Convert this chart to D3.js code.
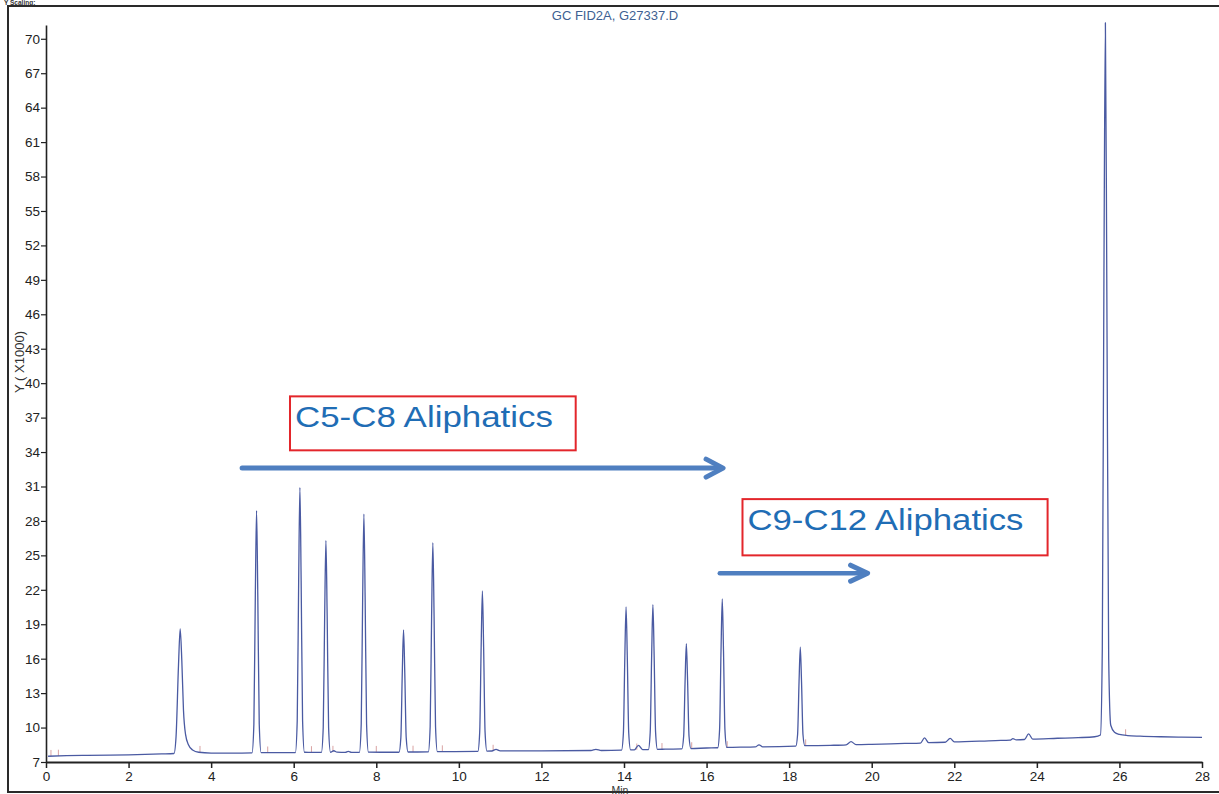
<!DOCTYPE html>
<html>
<head>
<meta charset="utf-8">
<script src="https://cdn.jsdelivr.net/npm/d3@7"></script>
<style>
  body { margin: 0; background: #fff; }
  svg { display: block; font-family: "Liberation Sans", Arial, sans-serif; }
</style>
</head>
<body>
<div id="container"></div>
<script>
/* CONSTANTS AND GLOBALS */
const width = 1219,
  height = 794,
  margin = { top: 25, bottom: 32, left: 46, right: 17 };

/* DATA - detector trace, [minutes, counts x1000] */
const trace = [
  [0.05, 7.5], [0.5, 7.55], [1.0, 7.58], [2.0, 7.62], [2.8, 7.7], [3.1, 7.74],
  [3.15, 9.2], [3.21, 15.5], [3.25, 18.6], [3.29, 15.8], [3.33, 11.5], [3.38, 9.4],
  [3.45, 8.5], [3.55, 8.05], [3.7, 7.85], [4.0, 7.78], [4.5, 7.77], [4.99, 7.8],
  [5.035, 10.3], [5.07, 21.5], [5.10, 28.9], [5.13, 21.5], [5.165, 10.3], [5.21, 7.82],
  [5.6, 7.81], [6.04, 7.82],
  [6.085, 10.6], [6.12, 22.8], [6.15, 30.9], [6.18, 22.8], [6.215, 10.6], [6.26, 7.85],
  [6.45, 7.83], [6.67, 7.83],
  [6.715, 10.0], [6.75, 19.8], [6.78, 26.3], [6.81, 19.8], [6.845, 10.0], [6.89, 7.85],
  [6.97, 7.98], [7.05, 7.86], [7.25, 7.84], [7.32, 7.93], [7.4, 7.84], [7.59, 7.84],
  [7.635, 10.3], [7.67, 21.3], [7.70, 28.6], [7.73, 21.3], [7.765, 10.3], [7.81, 7.86],
  [8.1, 7.85], [8.55, 7.85],
  [8.595, 9.1], [8.63, 14.8], [8.66, 18.5], [8.69, 14.8], [8.725, 9.1], [8.77, 7.87],
  [9.0, 7.87], [9.26, 7.88],
  [9.305, 10.1], [9.34, 19.7], [9.37, 26.1], [9.40, 19.7], [9.435, 10.1], [9.48, 7.9],
  [9.9, 7.91], [10.46, 7.92],
  [10.505, 9.6], [10.54, 17.0], [10.57, 21.9], [10.60, 17.0], [10.635, 9.6], [10.68, 7.95],
  [10.8, 7.96], [10.9, 8.1], [11.0, 7.97], [12.0, 7.97], [13.2, 8.0], [13.32, 8.1],
  [13.45, 8.0], [13.94, 8.03],
  [13.985, 9.5], [14.02, 16.1], [14.05, 20.5], [14.08, 16.1], [14.115, 9.5], [14.16, 8.05],
  [14.25, 8.06], [14.35, 8.45], [14.45, 8.08], [14.59, 8.08],
  [14.635, 9.6], [14.67, 16.3], [14.70, 20.7], [14.73, 16.3], [14.765, 9.6], [14.81, 8.1],
  [15.0, 8.12], [15.40, 8.14],
  [15.445, 9.24], [15.48, 14.1], [15.51, 17.3], [15.54, 14.1], [15.575, 9.24], [15.62, 8.17],
  [16.0, 8.22], [16.27, 8.24],
  [16.315, 9.8], [16.35, 16.7], [16.38, 21.2], [16.41, 16.7], [16.445, 9.8], [16.49, 8.27],
  [17.0, 8.3], [17.18, 8.31], [17.27, 8.5], [17.36, 8.32], [18.16, 8.38],
  [18.205, 9.4], [18.24, 14.0], [18.27, 17.0], [18.30, 14.0], [18.335, 9.4], [18.38, 8.42],
  [19.0, 8.45], [19.38, 8.5], [19.5, 8.77], [19.62, 8.52], [20.0, 8.54], [20.8, 8.62],
  [21.18, 8.65], [21.28, 9.1], [21.38, 8.68], [21.78, 8.72], [21.9, 9.05], [22.0, 8.75],
  [23.0, 8.87], [23.35, 8.9], [23.42, 9.03], [23.5, 8.93], [23.7, 8.96], [23.8, 9.45],
  [23.9, 9.0], [24.5, 9.07], [25.0, 9.12], [25.4, 9.2], [25.54, 9.35],
  [25.585, 16.8], [25.625, 49.7], [25.66, 71.4], [25.695, 48.0], [25.74, 16.0],
  [25.79, 10.2], [25.88, 9.6], [26.0, 9.4], [26.2, 9.3], [26.5, 9.25], [27.0, 9.2],
  [27.5, 9.17], [28.0, 9.15]
];

// integration event marks (small pink ticks on the baseline)
const eventMarks = [
  [0.12, 7.5], [0.3, 7.52], [3.73, 7.85], [5.37, 7.8], [6.43, 7.83], [6.95, 7.86],
  [8.0, 7.85], [8.89, 7.87], [9.6, 7.9], [10.83, 7.95], [14.31, 8.06], [14.92, 8.1],
  [15.64, 8.17], [16.5, 8.26], [18.4, 8.42], [26.15, 9.3]
];

const xTicks = d3.range(0, 29, 2);
const yTicks = d3.range(7, 71, 3);

// annotation text + where it sits, in chart units (min, counts x1000)
const labels = ["C5-C8 Aliphatics", "C9-C12 Aliphatics"];
const labelBoxes = [[5.91, 12.83, 38.85, 34.15], [16.87, 24.26, 29.9, 25.0]];
const arrows = [[4.75, 16.4, 32.6], [16.32, 19.9, 23.45]];

const titleText = "GC FID2A, G27337.D";

/* SCALES */
const xScale = d3.scaleLinear()
  .domain([0, 28])
  .range([margin.left, width - margin.right]);

const yScale = d3.scaleLinear()
  .domain([7, 71.2])
  .range([height - margin.bottom, margin.top]);

/* SVG */
const svg = d3.select("#container")
  .append("svg")
  .attr("width", width)
  .attr("height", height);

svg.append("rect")
  .attr("width", width).attr("height", height)
  .attr("fill", "#fff");

// scanned page frame
svg.append("rect")
  .attr("x", 8).attr("y", 6)
  .attr("width", width).attr("height", 786)
  .attr("fill", "none")
  .attr("stroke", "#2a2a2a")
  .attr("stroke-width", 2);

// page header, mostly cropped away in the scan
svg.append("text")
  .attr("x", 4).attr("y", 5)
  .attr("font-size", 6.5)
  .attr("font-weight", "bold")
  .attr("fill", "#333")
  .text("Y Scaling:");

svg.append("text")
  .attr("x", 615).attr("y", 20)
  .attr("text-anchor", "middle")
  .attr("font-size", 13)
  .attr("fill", "#3e5f92")
  .text(titleText);

/* AXES */
const xAxis = d3.axisBottom(xScale)
  .tickValues(xTicks)
  .tickSize(6)
  .tickSizeOuter(0)
  .tickPadding(3)
  .tickFormat(d3.format("d"));

svg.append("g")
  .attr("transform", `translate(0, ${yScale(7)})`)
  .call(xAxis)
  .call(g => g.select(".domain").attr("stroke", "#222").attr("stroke-width", 2))
  .call(g => g.selectAll(".tick line").attr("stroke", "#222").attr("stroke-width", 1.5))
  .call(g => g.selectAll(".tick text")
    .attr("font-size", 13.5)
    .attr("fill", "#222")
    .attr("font-family", "Liberation Sans, Arial, sans-serif"));

const yAxis = d3.axisLeft(yScale)
  .tickValues(yTicks)
  .tickSize(5)
  .tickSizeOuter(0)
  .tickPadding(1)
  .tickFormat(d3.format("d"));

svg.append("g")
  .attr("transform", `translate(${margin.left}, 0)`)
  .call(yAxis)
  .call(g => g.select(".domain").attr("stroke", "#222").attr("stroke-width", 1.6))
  .call(g => g.selectAll(".tick line").attr("stroke", "#222").attr("stroke-width", 1.2))
  .call(g => g.selectAll(".tick text")
    .attr("font-size", 13.5)
    .attr("fill", "#222")
    .attr("font-family", "Liberation Sans, Arial, sans-serif"));

svg.append("text")
  .attr("transform", `translate(24, 362) rotate(-90)`)
  .attr("text-anchor", "middle")
  .attr("font-size", 13)
  .attr("fill", "#333")
  .text("Y ( X1000)");

svg.append("text")
  .attr("x", 620).attr("y", 793.5)
  .attr("text-anchor", "middle")
  .attr("font-size", 10.5)
  .attr("fill", "#333")
  .text("Min");

/* EVENT MARKS */
svg.selectAll(".event")
  .data(eventMarks)
  .join("line")
  .attr("class", "event")
  .attr("x1", d => xScale(d[0]))
  .attr("x2", d => xScale(d[0]))
  .attr("y1", d => yScale(d[1]))
  .attr("y2", d => yScale(d[1] + 0.55))
  .attr("stroke", "#d9a3a3")
  .attr("stroke-width", 1);

/* TRACE */
const line = d3.line()
  .x(d => xScale(d[0]))
  .y(d => yScale(d[1]))
  .curve(d3.curveMonotoneX);

svg.append("path")
  .datum(trace)
  .attr("d", line)
  .attr("fill", "none")
  .attr("stroke", "#4a5aa2")
  .attr("stroke-width", 1.3)
  .attr("stroke-linejoin", "round");

/* ANNOTATIONS */
svg.selectAll(".label-box")
  .data(labelBoxes)
  .join("rect")
  .attr("class", "label-box")
  .attr("x", d => xScale(d[0]))
  .attr("y", d => yScale(d[2]))
  .attr("width", d => xScale(d[1]) - xScale(d[0]))
  .attr("height", d => yScale(d[3]) - yScale(d[2]))
  .attr("fill", "none")
  .attr("stroke", "#e3262b")
  .attr("stroke-width", 2);

svg.selectAll(".label-text")
  .data(labels)
  .join("text")
  .attr("class", "label-text")
  .attr("x", (d, i) => xScale(labelBoxes[i][0]) + 5)
  .attr("y", (d, i) => yScale(labelBoxes[i][2]) + 31)
  .attr("font-size", 29)
  .attr("fill", "#1f6db5")
  .attr("textLength", (d, i) => i === 0 ? 258 : 276)
  .attr("lengthAdjust", "spacingAndGlyphs")
  .text(d => d);

const arrowG = svg.selectAll(".arrow")
  .data(arrows)
  .join("g")
  .attr("class", "arrow")
  .attr("stroke", "#4f7fc0")
  .attr("fill", "none")
  .attr("stroke-linecap", "round")
  .attr("stroke-linejoin", "round");

arrowG.append("line")
  .attr("x1", d => xScale(d[0]))
  .attr("x2", d => xScale(d[1]) - 2)
  .attr("y1", d => yScale(d[2]))
  .attr("y2", d => yScale(d[2]))
  .attr("stroke-width", (d, i) => i === 0 ? 5 : 4.5);

arrowG.append("path")
  .attr("d", (d, i) => {
    const tx = xScale(d[1]), ty = yScale(d[2]);
    const back = 17, spread = i === 0 ? 9 : 8;
    return `M${tx - back},${ty - spread}L${tx},${ty}L${tx - back},${ty + spread}`;
  })
  .attr("stroke-width", 5);
</script>
</body>
</html>
